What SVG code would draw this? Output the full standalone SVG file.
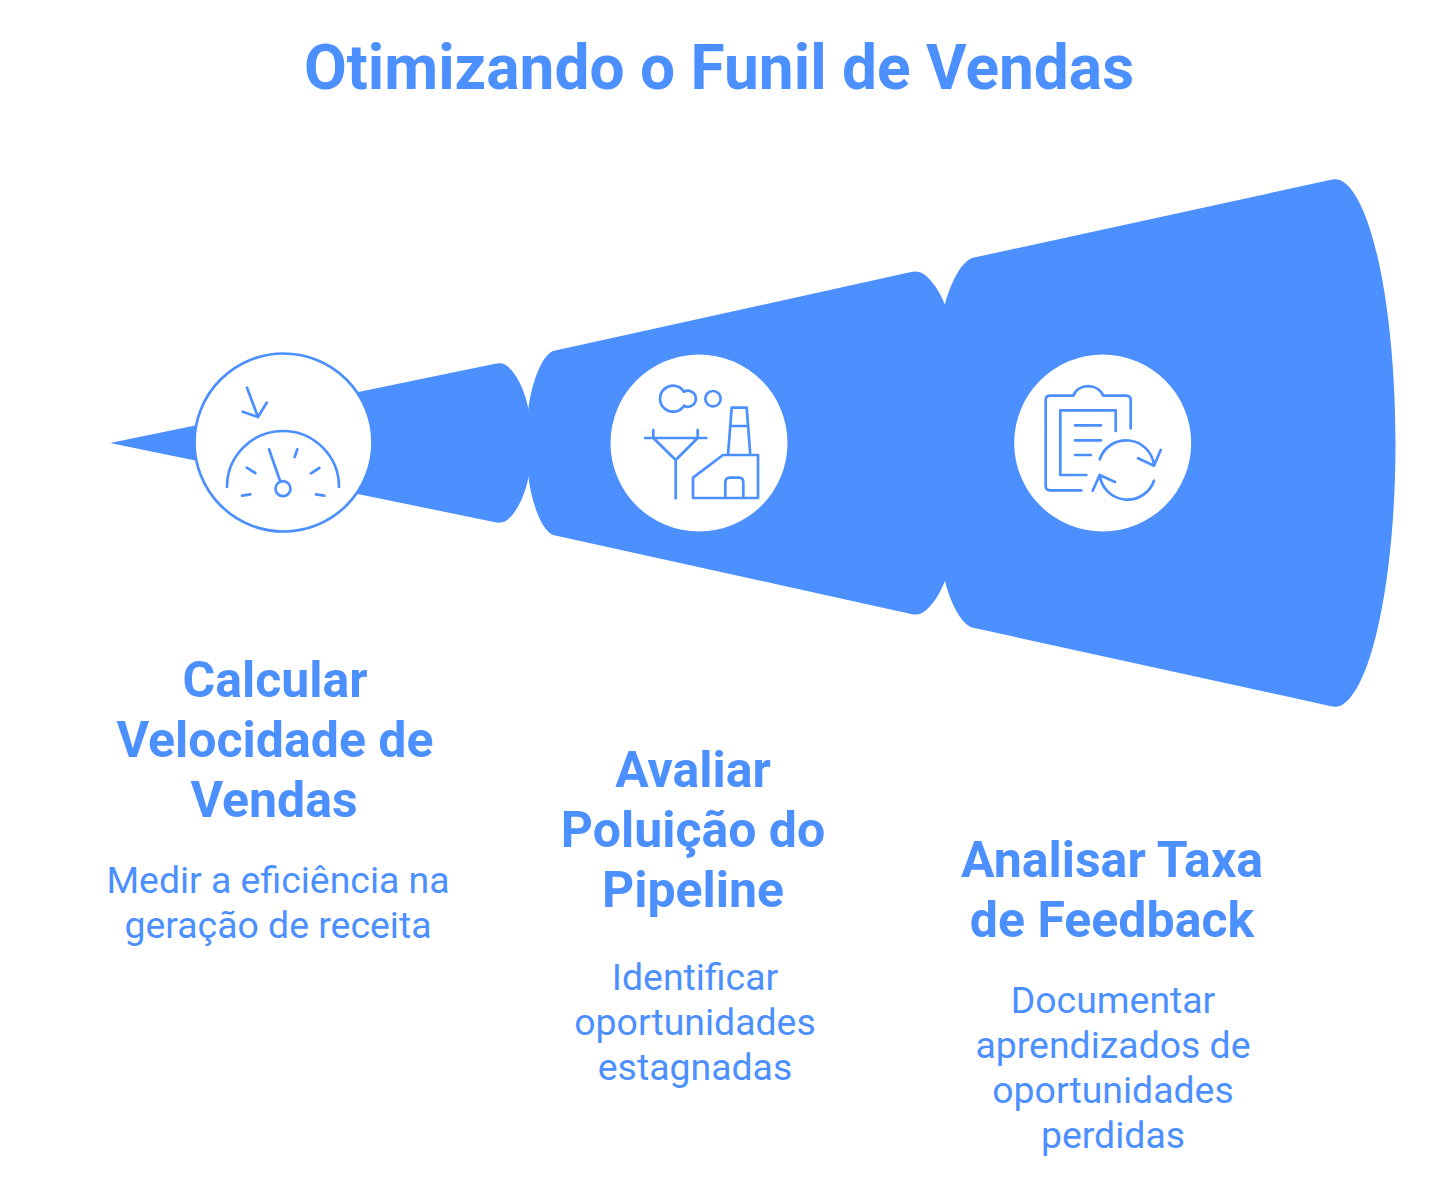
<svg xmlns="http://www.w3.org/2000/svg" width="1456" height="1186" viewBox="0 0 1456 1186">
<style>
text{font-family:Roboto,"Liberation Sans",sans-serif;fill:#4C8FFF;text-anchor:middle}
.t{font-size:62.2px;font-weight:700}
.h{font-size:50px;font-weight:700}
.d{font-size:37.4px;font-weight:400}
.band{fill:#4C8FFF}
.disc{fill:#fff}
.ic{fill:none;stroke:#4C8FFF;stroke-width:2.7;stroke-linecap:round;stroke-linejoin:round}
</style>
<rect width="1456" height="1186" fill="#fff"/>
<text class="t" x="719" y="89">Otimizando o Funil de Vendas</text>
<g id="connectors"></g>
<g id="node-velocidade">
<path class="band" d="M110 443L494 364Q500 362.500 505 364.500C516 371 526 392 529 412V474C526 494 516 515 505 521.500Q500 523.500 494 522Z"/>
<circle class="disc" cx="283.500" cy="442.500" r="89" stroke="#4C8FFF" stroke-width="2.700"/>
<path class="ic" d="M227 487A56 56 0 0 1 339 487"/>
<circle class="ic" cx="283" cy="488.700" r="7.500"/>
<path class="ic" d="M269 449.300L280 480.700M246.700 467.700L255.300 473M297.300 449.300L294.700 457M319.300 468L311 473.300M242 495.700L250.300 494.300M316 494.300L324.300 495.700M247 387.700L258 417M242.700 411.700L258 417L266.700 402.700"/>
<text class="h" x="275" y="697">Calcular</text>
<text class="h" x="275" y="757">Velocidade de</text>
<text class="h" x="274" y="817">Vendas</text>
<text class="d" x="278" y="893">Medir a eficiência na</text>
<text class="d" x="278" y="938">geração de receita</text>
</g>
<g id="node-poluicao">
<path class="band" d="M528 412C531 385 541 356 553 351L911 272Q917 270.500 922 273C932 279 940 292 945.500 306V579.500C940 594 932 607 922 613Q917 615.500 911 614L553 535C541 530 531 501 528 474Z"/>
<circle class="disc" cx="699" cy="443" r="88.500"/>
<path class="ic" d="M684 391.700A13 13 0 1 0 684 405.700A8 8 0 1 0 684 391.700Z"/>
<circle class="ic" cx="713" cy="398.700" r="7.700"/>
<path class="ic" d="M645 438H706.300M653.300 430V438L675.700 460L697.700 438V430M675.700 460V498.300"/>
<path class="ic" d="M693 477.700L723 455H758V498H693ZM728 455L731.700 407.700H746.700L750.300 455M730.700 426H747.700M725.300 498V482.500Q725.300 477.700 730 477.700H739Q743.300 477.700 743.300 482.500V498"/>
<text class="h" x="693" y="787">Avaliar</text>
<text class="h" x="693" y="847">Poluição do</text>
<text class="h" x="693" y="907">Pipeline</text>
<text class="d" x="695" y="990">Identificar</text>
<text class="d" x="695" y="1035">oportunidades</text>
<text class="d" x="695" y="1080">estagnadas</text>
</g>
<g id="node-feedback">
<path class="band" d="M944.500 443V306C950 285 960 263 972 258L1330 180Q1335 178.500 1340 180C1372 194 1395.500 310 1395.500 443C1395.500 576 1372 692 1340 706Q1335 707.500 1330 706L972 627.500C960 623 950 601 944.500 579.500Z"/>
<circle class="disc" cx="1102.700" cy="443" r="88.500"/>
<path class="ic" d="M1081.300 490.300H1050Q1045.700 490.300 1045.700 486V400Q1045.700 395.700 1050 395.700H1073.300C1078 383 1098 383 1103.300 395.700H1125.700Q1130.700 395.700 1130.700 400V428.300M1086.300 475H1060.300V410.300H1115.700V431M1075 425.300H1101M1075 440.300H1101M1075 455H1091"/>
<path class="ic" d="M1099.700 459.300A28 28 0 0 1 1154 465M1138 458.300L1154 465.700L1160.700 450M1154 480.700A28 28 0 0 1 1099.700 475M1115 482L1099.700 475L1092.700 490.700"/>
<text class="h" x="1112" y="877">Analisar Taxa</text>
<text class="h" x="1112" y="937">de Feedback</text>
<text class="d" x="1113" y="1013">Documentar</text>
<text class="d" x="1113" y="1058">aprendizados de</text>
<text class="d" x="1113" y="1103">oportunidades</text>
<text class="d" x="1113" y="1148">perdidas</text>
</g>
</svg>
